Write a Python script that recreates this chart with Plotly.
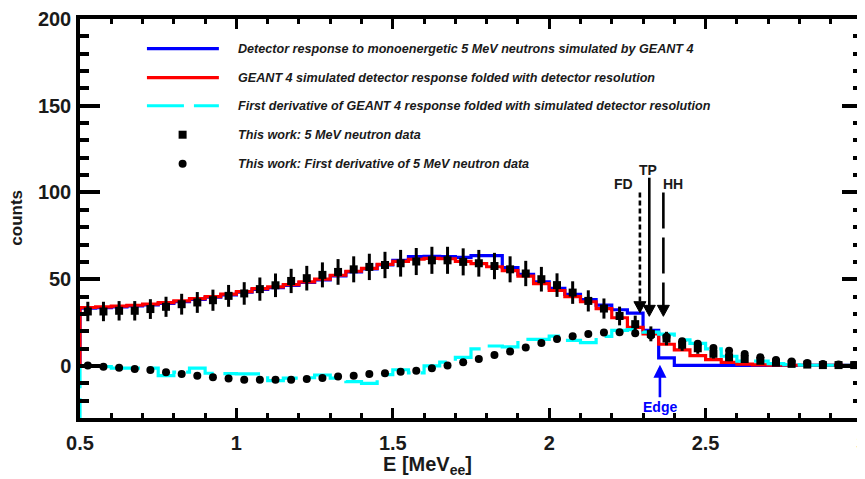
import plotly.graph_objects as go

# ---------------- data ----------------
energy = [0.525, 0.575, 0.625, 0.675, 0.725, 0.775, 0.825, 0.875, 0.925, 0.975,
          1.025, 1.075, 1.125, 1.175, 1.225, 1.275, 1.325, 1.375, 1.425, 1.475,
          1.525, 1.575, 1.625, 1.675, 1.725, 1.775, 1.825, 1.875, 1.925, 1.975,
          2.025, 2.075, 2.125, 2.175, 2.225, 2.275, 2.325, 2.375, 2.425, 2.475,
          2.525, 2.575, 2.625, 2.675, 2.725, 2.775, 2.825, 2.875, 2.925, 2.975]
bin_width = 0.05

data_counts = [31.4, 31.4, 31.8, 31.8, 32.8, 34.1, 35.6, 36.6, 37.9, 40.4,
               41.8, 44.3, 46.5, 49.0, 50.6, 52.5, 54.2, 55.7, 57.1, 58.2,
               59.2, 60.2, 60.9, 60.9, 60.0, 59.2, 57.6, 55.7, 53.3, 50.0,
               46.6, 42.3, 37.5, 33.1, 28.8, 24.1, 18.5, 15.8, 12.2, 10.2,
               7.0, 5.0, 4.0, 3.0, 1.9, 1.2, 0.8, 0.5, 0.5, 0.5]
data_err = [5.6, 5.6, 5.6, 5.6, 5.7, 5.8, 6.0, 6.0, 6.1, 6.3,
            6.5, 6.7, 6.8, 7.0, 7.1, 7.2, 7.4, 7.5, 7.6, 7.6,
            7.7, 7.8, 7.8, 7.8, 7.8, 7.7, 7.6, 7.5, 7.3, 7.1,
            6.8, 6.5, 6.1, 5.8, 5.4, 4.9, 4.3, 3.9, 3.5, 3.2,
            2.7, 2.2, 2.0, 1.7, 1.4, 1.1, 0.9, 0.7, 0.7, 0.7]
data_deriv = [0.2, -0.4, -1.1, -1.7, -2.3, -3.6, -4.6, -5.7, -6.5, -7.3,
              -7.9, -8.0, -8.0, -7.9, -7.5, -6.9, -6.1, -5.6, -4.6, -4.2,
              -3.3, -2.7, -1.3, 0.2, 2.1, 4.0, 6.3, 8.4, 10.7, 13.2,
              15.5, 17.1, 18.4, 19.3, 19.5, 18.9, 17.6, 16.8, 14.2, 12.8,
              10.4, 8.8, 6.9, 5.0, 3.4, 2.5, 1.7, 1.1, 0.8, 0.5]

geant_raw = [33.3, 33.6, 34.1, 34.6, 35.2, 36.1, 37.1, 38.4, 39.6, 41.0,
             42.5, 44.2, 45.2, 46.5, 48.1, 49.6, 51.9, 54.2, 55.9, 58.3,
             60.9, 63.0, 63.2, 63.0, 62.6, 63.6, 63.6, 56.7, 52.8, 48.5,
             44.8, 41.3, 38.2, 35.1, 32.4, 30.5, 20.5, 4.7, 0.3, 0.3,
             0.3, 0.3, 0.3, 0.3, 0.3, 0.3, 0.3, 0.3, 0.3, 0.3]
geant_folded = [33.7, 34.0, 34.5, 35.0, 35.6, 36.5, 37.5, 38.8, 40.0, 41.4,
                42.9, 44.6, 45.6, 46.9, 48.5, 50.0, 52.3, 54.6, 56.3, 58.6,
                60.3, 61.5, 62.0, 61.8, 60.3, 59.0, 57.2, 55.0, 51.8, 47.5,
                43.5, 40.0, 37.0, 33.0, 27.8, 22.2, 18.5, 12.5, 9.3, 5.9,
                3.7, 2.1, 1.1, 0.6, 0.4, 0.4, 0.4, 0.4, 0.4, 0.4]
geant_deriv = [-0.2, -0.4, -1.3, -1.3, -1.3, -5.6, -3.6, -1.2, -4.2, -4.4,
               -4.6, -4.6, -8.5, -7.0, -6.8, -5.2, -7.0, -9.0, -10.0, -5.0,
               -2.2, -4.0, 0.0, 2.2, 5.0, 9.8, 11.5, 11.0, 15.3, 15.3,
               17.2, 14.8, 13.5, 17.0, 20.5, 21.0, 19.5, 18.4, 15.0, 13.0,
               9.8, 5.6, 2.8, 2.8, 1.3, 0.8, 0.4, 0.4, 0.4, 0.4]
hist_start = {"raw": 0.0, "folded": 0.0, "deriv": -40.0}

x_ticks = [0.5, 1, 1.5, 2, 2.5, 3]
x_ticktext = ["0.5", "1", "1.5", "2", "2.5", "3"]
y_ticks = [0, 50, 100, 150, 200]
y_ticktext = ["0", "50", "100", "150", "200"]

legend_labels = [
    "Detector response to monoenergetic 5 MeV neutrons simulated by GEANT 4",
    "GEANT 4 simulated detector response folded with detector resolution",
    "First derivative of GEANT 4 response folded with simulated detector resolution",
    "This work: 5 MeV neutron data",
    "This work: First derivative of 5 MeV neutron data",
]

# edge-finding markers: (label, energy, top, tip, dash)
markers = [("FD", 2.290, 100.0, 30.7, "5px,3px"),
           ("TP", 2.320, 108.5, 28.6, "solid"),
           ("HH", 2.365, 100.0, 28.6, "36px,9px")]
marker_label_pos = {"FD": (2.239, 105.1), "TP": (2.316, 113.2), "HH": (2.396, 105.1)}
edge_energy = 2.354

BLUE = "#0000ff"
RED = "#ff0000"
CYAN = "#00ffff"
BLACK = "#000000"
TXT = "#1a1a1a"
FONT = "Liberation Sans, Arial, sans-serif"

edges = [round(e - bin_width / 2, 4) for e in energy] + [round(energy[-1] + bin_width / 2, 4)]


def step_xy(vals, start):
    xs = [edges[0]] + edges
    ys = [start] + list(vals) + [vals[-1]]
    return xs, ys


fig = go.Figure()

for vals, start, color, dash in [(geant_raw, hist_start["raw"], BLUE, "solid"),
                                 (geant_folded, hist_start["folded"], RED, "solid"),
                                 (geant_deriv, hist_start["deriv"], CYAN, "37px,10px")]:
    xs, ys = step_xy(vals, start)
    fig.add_trace(go.Scatter(x=xs, y=ys, mode="lines", line_shape="hv",
                             line=dict(color=color, width=3.2, dash=dash),
                             showlegend=False, hoverinfo="skip"))

fig.add_trace(go.Scatter(x=energy, y=data_counts, mode="markers",
                         marker=dict(symbol="square", size=8, color=BLACK),
                         error_y=dict(type="data", array=data_err, visible=True,
                                      color=BLACK, thickness=3, width=0),
                         showlegend=False))
fig.add_trace(go.Scatter(x=energy, y=data_deriv, mode="markers",
                         marker=dict(symbol="circle", size=8, color=BLACK),
                         showlegend=False))

shapes = []
annotations = []

# manual legend
leg_rows = [182.9, 166.2, 150.0, 133.3, 116.6]
leg_x0, leg_x1, leg_mx, leg_tx = 0.714, 0.944, 0.828, 1.0
for yy, col, dash in [(leg_rows[0], BLUE, "solid"), (leg_rows[1], RED, "solid"),
                      (leg_rows[2], CYAN, "37px,10px")]:
    shapes.append(dict(type="line", xref="x", yref="y", x0=leg_x0, x1=leg_x1, y0=yy, y1=yy,
                       line=dict(color=col, width=3.2, dash=dash)))
for yy, kind in [(leg_rows[3], "rect"), (leg_rows[4], "circle")]:
    shapes.append(dict(type=kind, xref="x", yref="y", xsizemode="pixel", ysizemode="pixel",
                       xanchor=leg_mx, yanchor=yy, x0=-4, x1=4, y0=-4, y1=4,
                       fillcolor=BLACK, line=dict(color=BLACK, width=0)))
for yy, lab in zip(leg_rows, legend_labels):
    annotations.append(dict(x=leg_tx, y=yy, xref="x", yref="y", xanchor="left", yanchor="middle",
                            text="<b><i>" + lab + "</i></b>", showarrow=False,
                            font=dict(family=FONT, size=12.6, color=TXT)))

# FD / TP / HH arrows: dashed shaft + pixel-sized triangular head
for lab, ex, top, tip, dash in markers:
    shapes.append(dict(type="line", xref="x", yref="y", x0=ex, x1=ex, y0=top, y1=tip + 4,
                       line=dict(color=BLACK, width=2.6, dash=dash)))
    shapes.append(dict(type="path", xref="x", yref="y", xsizemode="pixel", ysizemode="pixel",
                       xanchor=ex, yanchor=tip, path="M-6,11 L6,11 L0,0 Z",
                       fillcolor=BLACK, line=dict(color=BLACK, width=1)))
    lx, ly = marker_label_pos[lab]
    annotations.append(dict(x=lx, y=ly, xref="x", yref="y", text="<b>" + lab + "</b>",
                            showarrow=False, font=dict(family=FONT, size=14, color=TXT)))

# Edge arrow
annotations.append(dict(x=edge_energy, y=0.75, xref="x", yref="y", ax=0, ay=42,
                        text="<b>Edge</b>", showarrow=True, arrowhead=2, arrowsize=1.0,
                        arrowwidth=2.6, arrowcolor=BLUE,
                        font=dict(family=FONT, size=14, color=BLUE)))

# axis titles
annotations.append(dict(x=0.445, y=-0.120, xref="paper", yref="paper", xanchor="center",
                        yanchor="middle", text="<b>E [MeV<sub>ee</sub>]</b>", showarrow=False,
                        font=dict(family=FONT, size=20, color=TXT)))
annotations.append(dict(x=-0.0806, y=0.502, xref="paper", yref="paper", textangle=-90,
                        xanchor="center", yanchor="middle", text="<b>counts</b>",
                        showarrow=False, font=dict(family=FONT, size=17, color=TXT)))

axis_common = dict(showline=True, linecolor=BLACK, linewidth=3.5, mirror="allticks",
                   ticks="inside", tickcolor=BLACK, showgrid=False, zeroline=False,
                   automargin=False, ticklabeloverflow="allow")

# the page body adds an 8px margin, so the figure is 8px smaller than the window
fig.update_layout(
    width=857, height=471,
    margin=dict(l=72, r=2.5, t=11, b=61),
    template="none",
    paper_bgcolor="white", plot_bgcolor="white",
    showlegend=False,
    font=dict(family=FONT, color=TXT),
    shapes=shapes, annotations=annotations,
    xaxis=dict(range=[0.5, 3.0], tickvals=x_ticks, ticktext=x_ticktext,
               ticklen=10, tickwidth=3, ticklabelstandoff=4,
               tickfont=dict(family=FONT, size=20, color=TXT, weight="bold"),
               minor=dict(dtick=0.1, tick0=0.5, ticklen=5, tickwidth=3, ticks="inside",
                          tickcolor=BLACK, showgrid=False),
               **axis_common),
    yaxis=dict(range=[-30, 200], tickvals=y_ticks, ticktext=y_ticktext,
               ticklen=20, tickwidth=3.5, ticklabelstandoff=1,
               tickfont=dict(family=FONT, size=20, color=TXT, weight="bold"),
               minor=dict(dtick=10, tick0=0, ticklen=9, tickwidth=3.5, ticks="inside",
                          tickcolor=BLACK, showgrid=False),
               **axis_common),
)

fig.write_html("out.html")
